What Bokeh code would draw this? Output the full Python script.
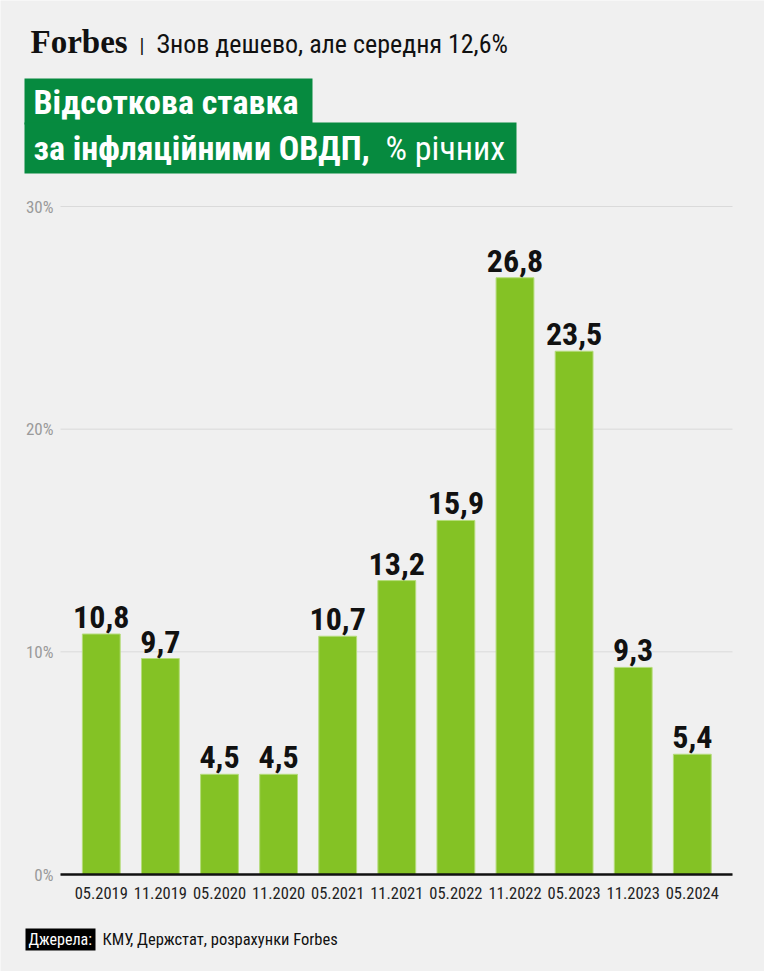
from bokeh.plotting import figure
from bokeh.models import Range1d, FixedTicker, ColumnDataSource
from bokeh.core.properties import value
from bokeh.embed import file_html
from bokeh.resources import INLINE

# ---- data ----
categories = ["05.2019", "11.2019", "05.2020", "11.2020", "05.2021", "11.2021",
              "05.2022", "11.2022", "05.2023", "11.2023", "05.2024"]
rates = [10.8, 9.7, 4.5, 4.5, 10.7, 13.2, 15.9, 26.8, 23.5, 9.3, 5.4]
y_ticks = [0, 10, 20, 30]
y_tick_labels = ["0%", "10%", "20%", "30%"]

header_sub = "Знов дешево, але середня 12,6%"
title_line1 = "Відсоткова ставка"
title_line2_bold = "за інфляційними ОВДП,"
title_line2_norm = "% річних"
source_label = "Джерела:"
source_text = "КМУ, Держстат, розрахунки Forbes"

BG = "#f0f0f0"
GREEN_BAR = "#84c225"
GREEN_TITLE = "#068a3f"
COND = "'Roboto Condensed', Roboto, sans-serif"

W, H = 764, 971
# plot area in page pixels
FL, FR, FT, FB = 60, 732, 206, 874
X0, X1 = -0.69, 10.68          # category axis extent
Y0, Y1 = 0, 30                 # value axis extent
PX = (FR - FL) / (X1 - X0)     # pixels per category unit
PY = (FB - FT) / (Y1 - Y0)     # pixels per percent

p = figure(width=W, height=H, output_backend="svg", toolbar_location=None,
           x_range=Range1d(X0 - FL / PX, X1 + (W - FR) / PX),
           y_range=Range1d(Y0 - (H - FB) / PY, Y1 + FT / PY),
           min_border=0, min_border_left=0, min_border_right=0,
           min_border_top=0, min_border_bottom=0)
p.background_fill_color = BG
p.border_fill_color = BG
p.outline_line_color = None


def dx(sx):
    return X0 + (sx - FL) / PX


def dy(sy):
    return Y0 + (FB - sy) / PY


BL = 0.36  # baseline correction (fraction of font size)


def txt(sx, sy, s, size, color="#111111", bold=False, font=COND):
    p.text(x=[dx(sx)], y=[dy(sy - BL * size)], text=[s], text_font=value(font),
           text_font_style="bold" if bold else "normal",
           text_font_size=f"{size}px", text_color=color, text_baseline="alphabetic")


# ---------- grid ----------
p.xgrid.visible = False
p.ygrid.visible = False
p.segment(x0=[X0] * len(y_ticks), x1=[X1] * len(y_ticks), y0=y_ticks, y1=y_ticks,
          line_color="#dadada", line_width=1)

# ---------- bars ----------
src = ColumnDataSource(dict(x=list(range(len(categories))), top=rates,
                            lbl=[f"{v:.1f}".replace(".", ",") for v in rates]))
p.vbar(x="x", top="top", width=0.64, source=src, fill_color=GREEN_BAR,
       line_color="#b5dc7a", line_width=1)
p.text(x="x", y="top", text="lbl", source=src, text_align="center",
       text_baseline="bottom", y_offset=-6, text_font=value(COND),
       text_font_style="bold", text_font_size="32px", text_color="#111111")

# ---------- axes ----------
p.xaxis.fixed_location = Y0
p.xaxis.bounds = (X0, X1)
p.xaxis.ticker = FixedTicker(ticks=list(range(len(categories))))
p.xaxis.major_label_overrides = {i: c for i, c in enumerate(categories)}
p.xaxis.axis_line_color = "#111111"
p.xaxis.axis_line_width = 2.5
p.xaxis.major_tick_line_color = None
p.xaxis.minor_tick_line_color = None
p.xaxis.major_label_text_font = COND
p.xaxis.major_label_text_font_size = "16.5px"
p.xaxis.major_label_text_color = "#222222"
p.xaxis.major_label_standoff = 6

p.yaxis.fixed_location = X0
p.yaxis.bounds = (Y0, Y1)
p.yaxis.ticker = FixedTicker(ticks=y_ticks)
p.yaxis.major_label_overrides = {t: l for t, l in zip(y_ticks, y_tick_labels)}
p.yaxis.axis_line_color = None
p.yaxis.major_tick_line_color = None
p.yaxis.minor_tick_line_color = None
p.yaxis.major_label_text_font = COND
p.yaxis.major_label_text_font_size = "17px"
p.yaxis.major_label_text_color = "#9a9a9a"
p.yaxis.major_label_text_align = "left"
p.yaxis.major_label_standoff = 1

# ---------- header ----------
txt(30, 53, "Forbes", 33, bold=True, font="Liberation Serif")
txt(139, 53, "|", 20, font="Roboto")
txt(156, 53, header_sub, 26)
p.quad(left=[dx(24), dx(24)], right=[dx(312), dx(516)],
       top=[dy(78), dy(122)], bottom=[dy(124), dy(173)],
       fill_color=GREEN_TITLE, line_color=None)
txt(33, 114, title_line1, 34, color="white", bold=True)
txt(33, 160, title_line2_bold, 34, color="white", bold=True)
txt(385, 160, title_line2_norm, 34, color="white")

# ---------- footer ----------
p.quad(left=[dx(25)], right=[dx(95)], top=[dy(928)], bottom=[dy(950)],
       fill_color="#000000", line_color=None)
txt(28, 945, source_label, 16, color="white")
txt(102, 945, source_text, 16.5)

open("out.html", "w").write(file_html(p, INLINE))
